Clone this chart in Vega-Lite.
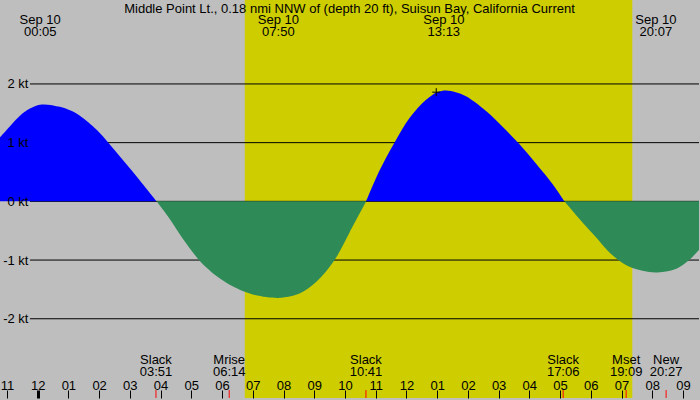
{
  "$schema": "https://vega.github.io/schema/vega-lite/v6.json",
  "description": "Tidal current at Middle Point Lt., Suisun Bay, Sep 10",
  "width": 700,
  "height": 400,
  "autosize": {"type": "fit", "contains": "padding"},
  "padding": 0,
  "background": "#bebebe",
  "title": {
    "text": "Middle Point Lt., 0.18 nmi NNW of (depth 20 ft), Suisun Bay, California Current",
    "offset": -16,
    "anchor": "middle",
    "font": "Liberation Sans",
    "fontSize": 13,
    "fontWeight": "normal",
    "color": "black"
  },
  "config": {
    "view": {"stroke": null},
    "font": "Liberation Sans",
    "text": {"font": "Liberation Sans", "fontSize": 13, "color": "black"}
  },
  "datasets": {
    "daylight": [
      {"rise": 6.74, "set": 19.35}
    ],
    "grid": [
      {"kt": -2}, {"kt": -1}, {"kt": 0}, {"kt": 1}, {"kt": 2}
    ],
    "flow": [
      {"hour": -1.225, "kt": 1.09, "phase": "flood", "seg": 1},
      {"hour": -0.9, "kt": 1.28, "phase": "flood", "seg": 1},
      {"hour": -0.575, "kt": 1.46, "phase": "flood", "seg": 1},
      {"hour": -0.25, "kt": 1.58, "phase": "flood", "seg": 1},
      {"hour": 0.13, "kt": 1.65, "phase": "flood", "seg": 1},
      {"hour": 0.725, "kt": 1.61, "phase": "flood", "seg": 1},
      {"hour": 1.05, "kt": 1.55, "phase": "flood", "seg": 1},
      {"hour": 1.375, "kt": 1.46, "phase": "flood", "seg": 1},
      {"hour": 1.92, "kt": 1.22, "phase": "flood", "seg": 1},
      {"hour": 2.3, "kt": 1.0, "phase": "flood", "seg": 1},
      {"hour": 2.78, "kt": 0.7, "phase": "flood", "seg": 1},
      {"hour": 3.32, "kt": 0.36, "phase": "flood", "seg": 1},
      {"hour": 3.87, "kt": 0, "phase": "flood", "seg": 1},
      {"hour": 3.87, "kt": 0, "phase": "ebb", "seg": 2},
      {"hour": 4.3, "kt": -0.3, "phase": "ebb", "seg": 2},
      {"hour": 4.73, "kt": -0.64, "phase": "ebb", "seg": 2},
      {"hour": 5.22, "kt": -0.98, "phase": "ebb", "seg": 2},
      {"hour": 5.5, "kt": -1.13, "phase": "ebb", "seg": 2},
      {"hour": 5.82, "kt": -1.27, "phase": "ebb", "seg": 2},
      {"hour": 6.36, "kt": -1.45, "phase": "ebb", "seg": 2},
      {"hour": 6.9, "kt": -1.57, "phase": "ebb", "seg": 2},
      {"hour": 7.44, "kt": -1.63, "phase": "ebb", "seg": 2},
      {"hour": 7.8, "kt": -1.645, "phase": "ebb", "seg": 2},
      {"hour": 7.98, "kt": -1.64, "phase": "ebb", "seg": 2},
      {"hour": 8.52, "kt": -1.57, "phase": "ebb", "seg": 2},
      {"hour": 9.07, "kt": -1.37, "phase": "ebb", "seg": 2},
      {"hour": 9.66, "kt": -1.0, "phase": "ebb", "seg": 2},
      {"hour": 10.15, "kt": -0.53, "phase": "ebb", "seg": 2},
      {"hour": 10.69, "kt": 0, "phase": "ebb", "seg": 2},
      {"hour": 10.69, "kt": 0, "phase": "flood", "seg": 3},
      {"hour": 11.12, "kt": 0.52, "phase": "flood", "seg": 3},
      {"hour": 11.61, "kt": 1.0, "phase": "flood", "seg": 3},
      {"hour": 12.1, "kt": 1.42, "phase": "flood", "seg": 3},
      {"hour": 12.64, "kt": 1.73, "phase": "flood", "seg": 3},
      {"hour": 13.0, "kt": 1.86, "phase": "flood", "seg": 3},
      {"hour": 13.29, "kt": 1.89, "phase": "flood", "seg": 3},
      {"hour": 13.6, "kt": 1.86, "phase": "flood", "seg": 3},
      {"hour": 13.94, "kt": 1.79, "phase": "flood", "seg": 3},
      {"hour": 14.59, "kt": 1.54, "phase": "flood", "seg": 3},
      {"hour": 15.13, "kt": 1.27, "phase": "flood", "seg": 3},
      {"hour": 15.65, "kt": 0.99, "phase": "flood", "seg": 3},
      {"hour": 16.22, "kt": 0.64, "phase": "flood", "seg": 3},
      {"hour": 16.76, "kt": 0.29, "phase": "flood", "seg": 3},
      {"hour": 17.14, "kt": 0, "phase": "flood", "seg": 3},
      {"hour": 17.14, "kt": 0, "phase": "ebb", "seg": 4},
      {"hour": 17.68, "kt": -0.33, "phase": "ebb", "seg": 4},
      {"hour": 18.22, "kt": -0.64, "phase": "ebb", "seg": 4},
      {"hour": 18.55, "kt": -0.84, "phase": "ebb", "seg": 4},
      {"hour": 18.87, "kt": -0.99, "phase": "ebb", "seg": 4},
      {"hour": 19.2, "kt": -1.1, "phase": "ebb", "seg": 4},
      {"hour": 19.52, "kt": -1.16, "phase": "ebb", "seg": 4},
      {"hour": 19.85, "kt": -1.2, "phase": "ebb", "seg": 4},
      {"hour": 20.17, "kt": -1.21, "phase": "ebb", "seg": 4},
      {"hour": 20.5, "kt": -1.19, "phase": "ebb", "seg": 4},
      {"hour": 20.82, "kt": -1.14, "phase": "ebb", "seg": 4},
      {"hour": 21.2, "kt": -1.0, "phase": "ebb", "seg": 4},
      {"hour": 21.52, "kt": -0.83, "phase": "ebb", "seg": 4}
    ],
    "extremes": [
      {"hour": 0.083, "label": "Sep 10\n00:05"},
      {"hour": 7.833, "label": "Sep 10\n07:50"},
      {"hour": 13.217, "label": "Sep 10\n13:13"},
      {"hour": 20.117, "label": "Sep 10\n20:07"}
    ],
    "events": [
      {"hour": 3.85, "label": "Slack\n03:51"},
      {"hour": 6.233, "label": "Mrise\n06:14"},
      {"hour": 10.683, "label": "Slack\n10:41"},
      {"hour": 17.1, "label": "Slack\n17:06"},
      {"hour": 19.15, "label": "Mset\n19:09"},
      {"hour": 20.45, "label": "New\n20:27"}
    ],
    "now": [
      {"hour": 12.97, "kt": 1.86}
    ]
  },
  "encoding": {
    "x": {
      "type": "quantitative",
      "scale": {"domain": [-1.225, 21.52], "nice": false, "zero": false},
      "axis": {
        "values": [-1, 0, 1, 2, 3, 4, 5, 6, 7, 8, 9, 10, 11, 12, 13, 14, 15, 16, 17, 18, 19, 20, 21],
        "tickCount": 30,
        "labelExpr": "pad(((datum.value + 23) % 12) + 1, 2, '0', 'left')",
        "title": null,
        "domain": false,
        "grid": false,
        "tickSize": -8,
        "tickColor": "black",
        "tickWidth": {"condition": {"test": "datum.value == 0", "value": 3}, "value": 1},
        "labelPadding": -11,
        "labelBaseline": "top",
        "labelFontSize": 13,
        "labelColor": "black",
        "labelFlush": false,
        "labelOverlap": false,
        "labelBound": false,
        "zindex": 1
      }
    }
  },
  "layer": [
    {
      "data": {"name": "daylight"},
      "mark": {"type": "rect", "color": "#cdcd00"},
      "encoding": {
        "x": {"field": "rise", "type": "quantitative"},
        "x2": {"field": "set"}
      }
    },
    {
      "data": {"name": "grid"},
      "mark": {"type": "rule", "color": "black", "strokeWidth": 1},
      "encoding": {
        "y": {
          "field": "kt",
          "type": "quantitative",
          "scale": {"domain": [-3.35, 3.43], "nice": false, "zero": false},
          "axis": {
            "values": [-2, -1, 0, 1, 2],
            "labelExpr": "datum.value + ' kt'",
            "title": null,
            "domain": false,
            "ticks": false,
            "grid": false,
            "labelAlign": "right",
            "labelPadding": -28,
            "labelFontSize": 13,
            "labelColor": "black",
            "zindex": 1
          }
        },
        "x": {"datum": -0.25, "type": "quantitative"},
        "x2": {"datum": 21.52}
      }
    },
    {
      "data": {"name": "flow"},
      "mark": {"type": "area", "interpolate": "catmull-rom"},
      "encoding": {
        "x": {"field": "hour", "type": "quantitative"},
        "y": {"field": "kt", "type": "quantitative", "stack": null},
        "y2": {"datum": 0},
        "detail": {"field": "seg", "type": "nominal"},
        "color": {
          "field": "phase",
          "type": "nominal",
          "scale": {"domain": ["flood", "ebb"], "range": ["#0000ff", "#2e8b57"]},
          "legend": null
        }
      }
    },
    {
      "data": {"name": "events"},
      "mark": {"type": "rule", "color": "#ff0000", "strokeWidth": 1},
      "encoding": {
        "x": {"field": "hour", "type": "quantitative"},
        "y": {"datum": -3.35, "type": "quantitative"},
        "y2": {"datum": -3.215}
      }
    },
    {
      "data": {"name": "events"},
      "mark": {"type": "text", "align": "center", "baseline": "alphabetic", "lineBreak": "\n", "lineHeight": 12},
      "encoding": {
        "x": {"field": "hour", "type": "quantitative"},
        "y": {"datum": -2.77, "type": "quantitative"},
        "text": {"field": "label", "type": "nominal"}
      }
    },
    {
      "data": {"name": "extremes"},
      "mark": {"type": "text", "align": "center", "baseline": "alphabetic", "lineBreak": "\n", "lineHeight": 12},
      "encoding": {
        "x": {"field": "hour", "type": "quantitative"},
        "y": {"datum": 3.022, "type": "quantitative"},
        "text": {"field": "label", "type": "nominal"}
      }
    },
    {
      "data": {"name": "now"},
      "mark": {"type": "point", "shape": "M-1,0H1M0,-1V1", "size": 64, "stroke": "black", "strokeWidth": 1, "filled": false, "opacity": 1},
      "encoding": {
        "x": {"field": "hour", "type": "quantitative"},
        "y": {"field": "kt", "type": "quantitative"}
      }
    }
  ]
}
